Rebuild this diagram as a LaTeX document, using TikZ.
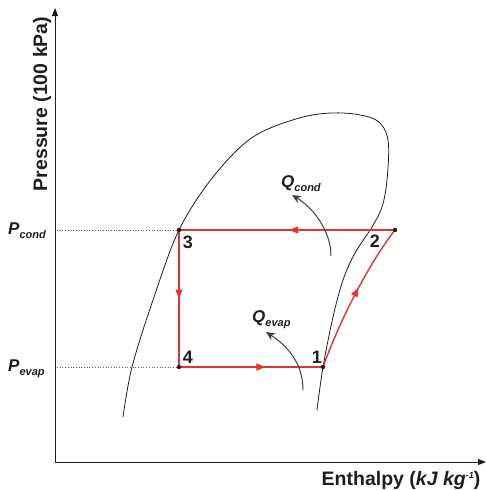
\documentclass[tikz,border=0pt]{standalone}
\usepackage{fontspec}
\setmainfont{Liberation Sans}
\usetikzlibrary{arrows.meta,decorations.markings}
\definecolor{cyc}{RGB}{226,50,50}
\definecolor{ink}{RGB}{30,30,30}
\tikzset{
  ax/.style={draw=ink, line width=0.9pt, -{Triangle[length=8pt,width=6pt]}},
  dome/.style={draw=ink, line width=0.8pt},
  cycline/.style={draw=cyc, line width=1.4pt},
  midarrow/.style={postaction={decorate}, decoration={markings, mark=at position #1 with {\arrow[cyc]{Triangle[length=9pt,width=7pt]}}}},
  guide/.style={draw=ink!70, line width=0.7pt, dotted},
  heat/.style={draw=ink!85, line width=1pt, -{Stealth[length=9pt,width=8pt]}},
  big/.style={font=\fontsize{19.5}{19.5}\selectfont\bfseries, text=ink, inner sep=0pt},
  num/.style={font=\fontsize{18}{18}\selectfont\bfseries, text=ink, inner sep=0pt},
  lab/.style={text=ink, inner sep=0pt, anchor=base west},
  dotpt/.style={fill=ink}
}
\newcommand{\symlab}[3]{{\fontsize{#3}{#3}\selectfont\bfseries\itshape #1}\raisebox{-4pt}{\fontsize{11}{11}\selectfont\bfseries\itshape #2}}
\begin{document}
\begin{tikzpicture}[x=1pt,y=-1pt]
\useasboundingbox (0,0) rectangle (487,490);
% axes
\coordinate (o) at (55,462);
\coordinate (ytip) at (55,8);
\coordinate (xtip) at (486,462);
\draw[ax] (o) -- (ytip);
\draw[ax] (o) -- (xtip);
\node[big, rotate=90] (ylab) at (42,104) {Pressure (100 kPa)};
\node[big, anchor=base] (xlab) at (401,485) {Enthalpy (\textit{kJ kg}\raisebox{7pt}{\fontsize{9}{9}\selectfont\textit{-1}})};
% dome
\draw[dome] plot[smooth, tension=0.55] coordinates {(123,417) (132,367) (153,300) (179,230) (213,177) (253,137) (303,117) (343,113) (376,120) (388,140) (387,180) (382,207) (372,227) (355,253) (343,280) (333,317) (323,367) (317,410)};
% cycle points
\coordinate (p1) at (323,367);
\coordinate (p2) at (395,230);
\coordinate (p3) at (179,230);
\coordinate (p4) at (179,367);
\coordinate (ac) at (57,230);
\coordinate (ae) at (57,367);
\draw[guide] (ac) -- (p3);
\draw[guide] (ae) -- (p4);
\draw[cycline, midarrow=0.49] (p2) -- (p3);
\draw[cycline, midarrow=0.5] (p3) -- (p4);
\draw[cycline, midarrow=0.6] (p4) -- (p1);
\draw[cycline, midarrow=0.56] (p1) .. controls (340,320) and (368,265) .. (p2);
\foreach \p in {p1,p2,p3,p4} \fill[dotpt] (\p) circle (2.2);
% point numbers
\node[num] (n1) at (317,357) {1};
\node[num] (n2) at (375,241) {2};
\node[num] (n3) at (188,242) {3};
\node[num] (n4) at (188,357) {4};
% pressure labels
\node[lab] (pc) at (8,234) {\symlab{P}{cond}{17}};
\node[lab] (pe) at (8,371) {\symlab{P}{evap}{17}};
% heat labels and arrows
\node[lab] (qc) at (281,187) {\symlab{Q}{cond}{17}};
\node[lab] (qe) at (252,322) {\symlab{Q}{evap}{17}};
\coordinate (qcs) at (331,256);
\coordinate (qct) at (292,195);
\coordinate (qes) at (303,390);
\coordinate (qet) at (266,332);
\draw[heat] (qcs) .. controls (331,230) and (312,207) .. (qct);
\draw[heat] (qes) .. controls (303,362) and (286,345) .. (qet);
\end{tikzpicture}
\end{document}
